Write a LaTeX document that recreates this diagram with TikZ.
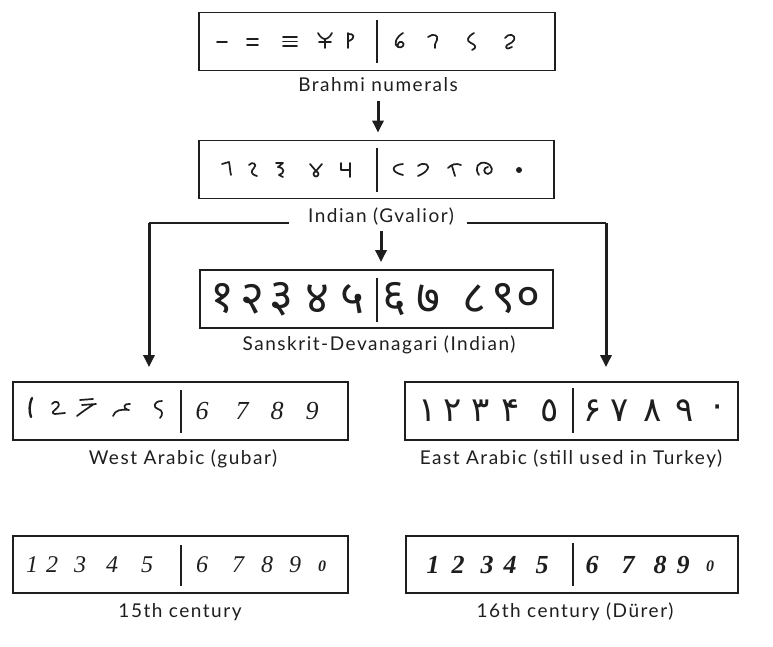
\documentclass[tikz,border=0pt]{standalone}
\usepackage{fontspec}
\setmainfont{Lato}[LetterSpace=8]
\newfontfamily\devfont[Script=Devanagari]{Noto Sans}
\newfontfamily\arfont[Script=Arabic]{DejaVu Sans}
\newfontfamily\serfont{Liberation Serif}
\usetikzlibrary{arrows.meta}
\definecolor{ink}{HTML}{1E1E1E}
\begin{document}
\begin{tikzpicture}[x=1pt,y=-1pt,
  box/.style={draw=ink, line width=1.8, inner sep=0, minimum height=58},
  divline/.style={draw=ink, line width=1.8},
  lab/.style={anchor=base, inner sep=0, text=ink, font=\fontsize{19}{21}\selectfont},
  arr/.style={draw=ink, line width=3, -{Triangle[width=11pt,length=12pt]}},
  conn/.style={draw=ink, line width=2.4},
  gl/.style={draw=ink, line width=1.7, line cap=round, line join=round},
  dev/.style={inner sep=0, text=ink, font=\devfont\fontsize{46}{46}\selectfont},
  ara/.style={inner sep=0, text=ink, font=\arfont\fontsize{34}{34}\selectfont},
  itd/.style={inner sep=0, text=ink, font=\serfont\itshape\fontsize{26}{26}\selectfont},
  ita/.style={inner sep=0, text=ink, font=\serfont\itshape\fontsize{24}{24}\selectfont},
  itb/.style={inner sep=0, text=ink, font=\serfont\itshape\bfseries\fontsize{26}{26}\selectfont}
]
\useasboundingbox (0,0) rectangle (773,647);
\fill[white] (0,0) rectangle (773,647);

% ---------------- boxes
\node[box, minimum width=356] (b1) at (377,41.5) {};
\node[box, minimum width=355] (b2) at (376.5,169.5) {};
\node[box, minimum width=353] (b3) at (376.5,299) {};
\node[box, minimum width=335] (b4) at (180.5,411) {};
\node[box, minimum width=333] (b5) at (571.5,411) {};
\node[box, minimum width=335, minimum height=57] (b6) at (180.5,564.5) {};
\node[box, minimum width=332, minimum height=57] (b7) at (572,564.5) {};

% dividers
\draw[divline] (377,20) -- (377,63);
\draw[divline] (377,148) -- (377,192);
\draw[divline] (377,278) -- (377,322);
\draw[divline] (181,390) -- (181,433);
\draw[divline] (573,388) -- (573,433);
\draw[divline] (181,545) -- (181,586);
\draw[divline] (573,543) -- (573,586);

% ---------------- labels
\node[lab] (l1) at (378,92) {Brahmi numerals};
\node[lab] (l2) at (381,222.5) {Indian (Gvalior)};
\node[lab] (l3) at (379,350.5) {Sanskrit-Devanagari (Indian)};
\node[lab] (l4) at (183,464) {West Arabic (gubar)};
\node[lab] (l5) at (571,464) {East Arabic (still used in Turkey)};
\node[lab] (l6) at (180,617) {15th century};
\node[lab] (l7) at (575,617) {16th century (Dürer)};

% ---------------- connectors
\draw[arr, shorten <=9pt, shorten >=7pt] (l1.south) -- (l1.south |- b2.north);
\draw[arr, shorten <=6pt, shorten >=7pt] (l2.south) -- (l2.south |- b3.north);
\coordinate (gl) at (289,223);
\coordinate (gr) at (467,223);
\draw[conn] (gl) -- (149,223);
\draw[arr, shorten >=14pt] (149,223) -- (b4.north -| 149,0);
\draw[conn] (gr) -- (606,223);
\draw[arr, shorten >=14pt] (606,223) -- (b5.north -| 606,0);

% ---------------- Brahmi glyphs
\draw[gl] (217,42) -- (227,42);
\draw[gl] (247,39) -- (258,39) (247,45) -- (258,45);
\draw[gl] (283,37) -- (297,37) (283,41.5) -- (297,41.5) (283,46) -- (297,46);
\draw[gl] (318,33) .. controls (320,37) and (323,39) .. (325,39) .. controls (327,39) and (330,37) .. (332,33)
          (325,39) -- (325,48) (319,42) -- (331,42);
\draw[gl] (348,33) -- (348,48) (348,34) .. controls (354,33) and (356,38) .. (349,41);
\draw[gl] (403,33) .. controls (396,37) and (393,45) .. (398,47) .. controls (402,49) and (406,44) .. (402,42) .. controls (399,41) and (397,44) .. (398,47);
\draw[gl] (428,37) .. controls (433,33) and (439,35) .. (437,40) .. controls (435,44) and (434,46) .. (435,48);
\draw[gl] (474,33) .. controls (467,37) and (466,41) .. (471,43) .. controls (476,45) and (477,48) .. (472,50);
\draw[gl] (505,38) .. controls (508,33) and (516,34) .. (514,40) .. controls (512,44) and (506,44) .. (506,47) .. controls (506,49) and (510,49) .. (512,47);

% ---------------- Gwalior glyphs
\draw[gl] (222,164) -- (229,162) .. controls (230,167) and (230,171) .. (231,175);
\draw[gl] (249,165) .. controls (252,161) and (258,164) .. (254,168) .. controls (251,171) and (250,174) .. (257,176);
\draw[gl] (276,163) -- (283,163) -- (278,167) .. controls (285,168) and (285,173) .. (279,175) -- (283,177);
\draw[gl] (310,164) -- (316,171) -- (322,164);
\draw[gl] (316,174) circle[radius=2.5];
\draw[gl] (341,163) -- (341,170) -- (350,170) (350,163) -- (350,177);
\draw[gl] (403,164) .. controls (391,165) and (390,172) .. (403,175);
\draw[gl] (418,166) .. controls (424,161) and (432,165) .. (426,171) .. controls (423,174) and (420,175) .. (418,176);
\draw[gl] (448,168) .. controls (452,164) and (456,163) .. (461,165) (452,166) -- (455,176);
\draw[gl] (479,175) .. controls (474,168) and (478,161) .. (486,163) .. controls (493,165) and (494,173) .. (488,174) .. controls (483,174) and (483,167) .. (488,167);
\fill[ink] (519,170) circle[radius=3];

% ---------------- Sanskrit-Devanagari
\foreach \ch/\x [count=\i] in {१/222,२/252,३/281,४/317,५/352,६/394,७/428,८/474,९/503,०/528}
  \node[dev] (d\i) at (\x,299) {\ch};

% ---------------- West Arabic (gubar)
\draw[gl, line width=2.4] (32,398) .. controls (29,405) and (29,411) .. (31,417);
\draw[gl] (52,404) .. controls (56,399) and (62,403) .. (57,408) .. controls (54,411) and (50,413) .. (55,414) -- (65,413);
\draw[gl] (80,400) -- (93,399) (82,405) -- (96,404) (94,404) .. controls (88,408) and (82,412) .. (77,416);
\draw[gl] (113,416) .. controls (115,410) and (121,409) .. (129,410) (130,404) .. controls (124,403) and (122,408) .. (128,410);
\draw[gl] (162,401) .. controls (153,401) and (153,408) .. (158,409) .. controls (163,410) and (163,415) .. (160,418);
\foreach \ch/\x [count=\i] in {6/202,7/242,8/277,9/312}
  \node[itd] (w\i) at (\x,411) {\ch};

% ---------------- East Arabic
\foreach \ch/\x [count=\i] in {١/428,٢/453,٣/481,۴/511,٥/550,۶/593,٧/620,٨/653,٩/685,٠/718}
  \node[ara] (e\i) at (\x,411) {\ch};

% ---------------- 15th century
\foreach \ch/\x [count=\i] in {1/32,2/52,3/80,4/112,5/147,6/202,7/238,8/267,9/295}
  \node[ita] (f\i) at (\x,565) {\ch};
\node[ita, font=\serfont\itshape\bfseries\fontsize{16}{16}\selectfont] (f10) at (322,566) {0};

% ---------------- 16th century
\foreach \ch/\x [count=\i] in {1/433,2/458,3/487,4/510,5/542,6/592,7/628,8/660,9/683}
  \node[itb] (s\i) at (\x,565) {\ch};
\node[itb, font=\serfont\itshape\bfseries\fontsize{16}{16}\selectfont] (s10) at (710,566) {0};
\end{tikzpicture}
\end{document}
